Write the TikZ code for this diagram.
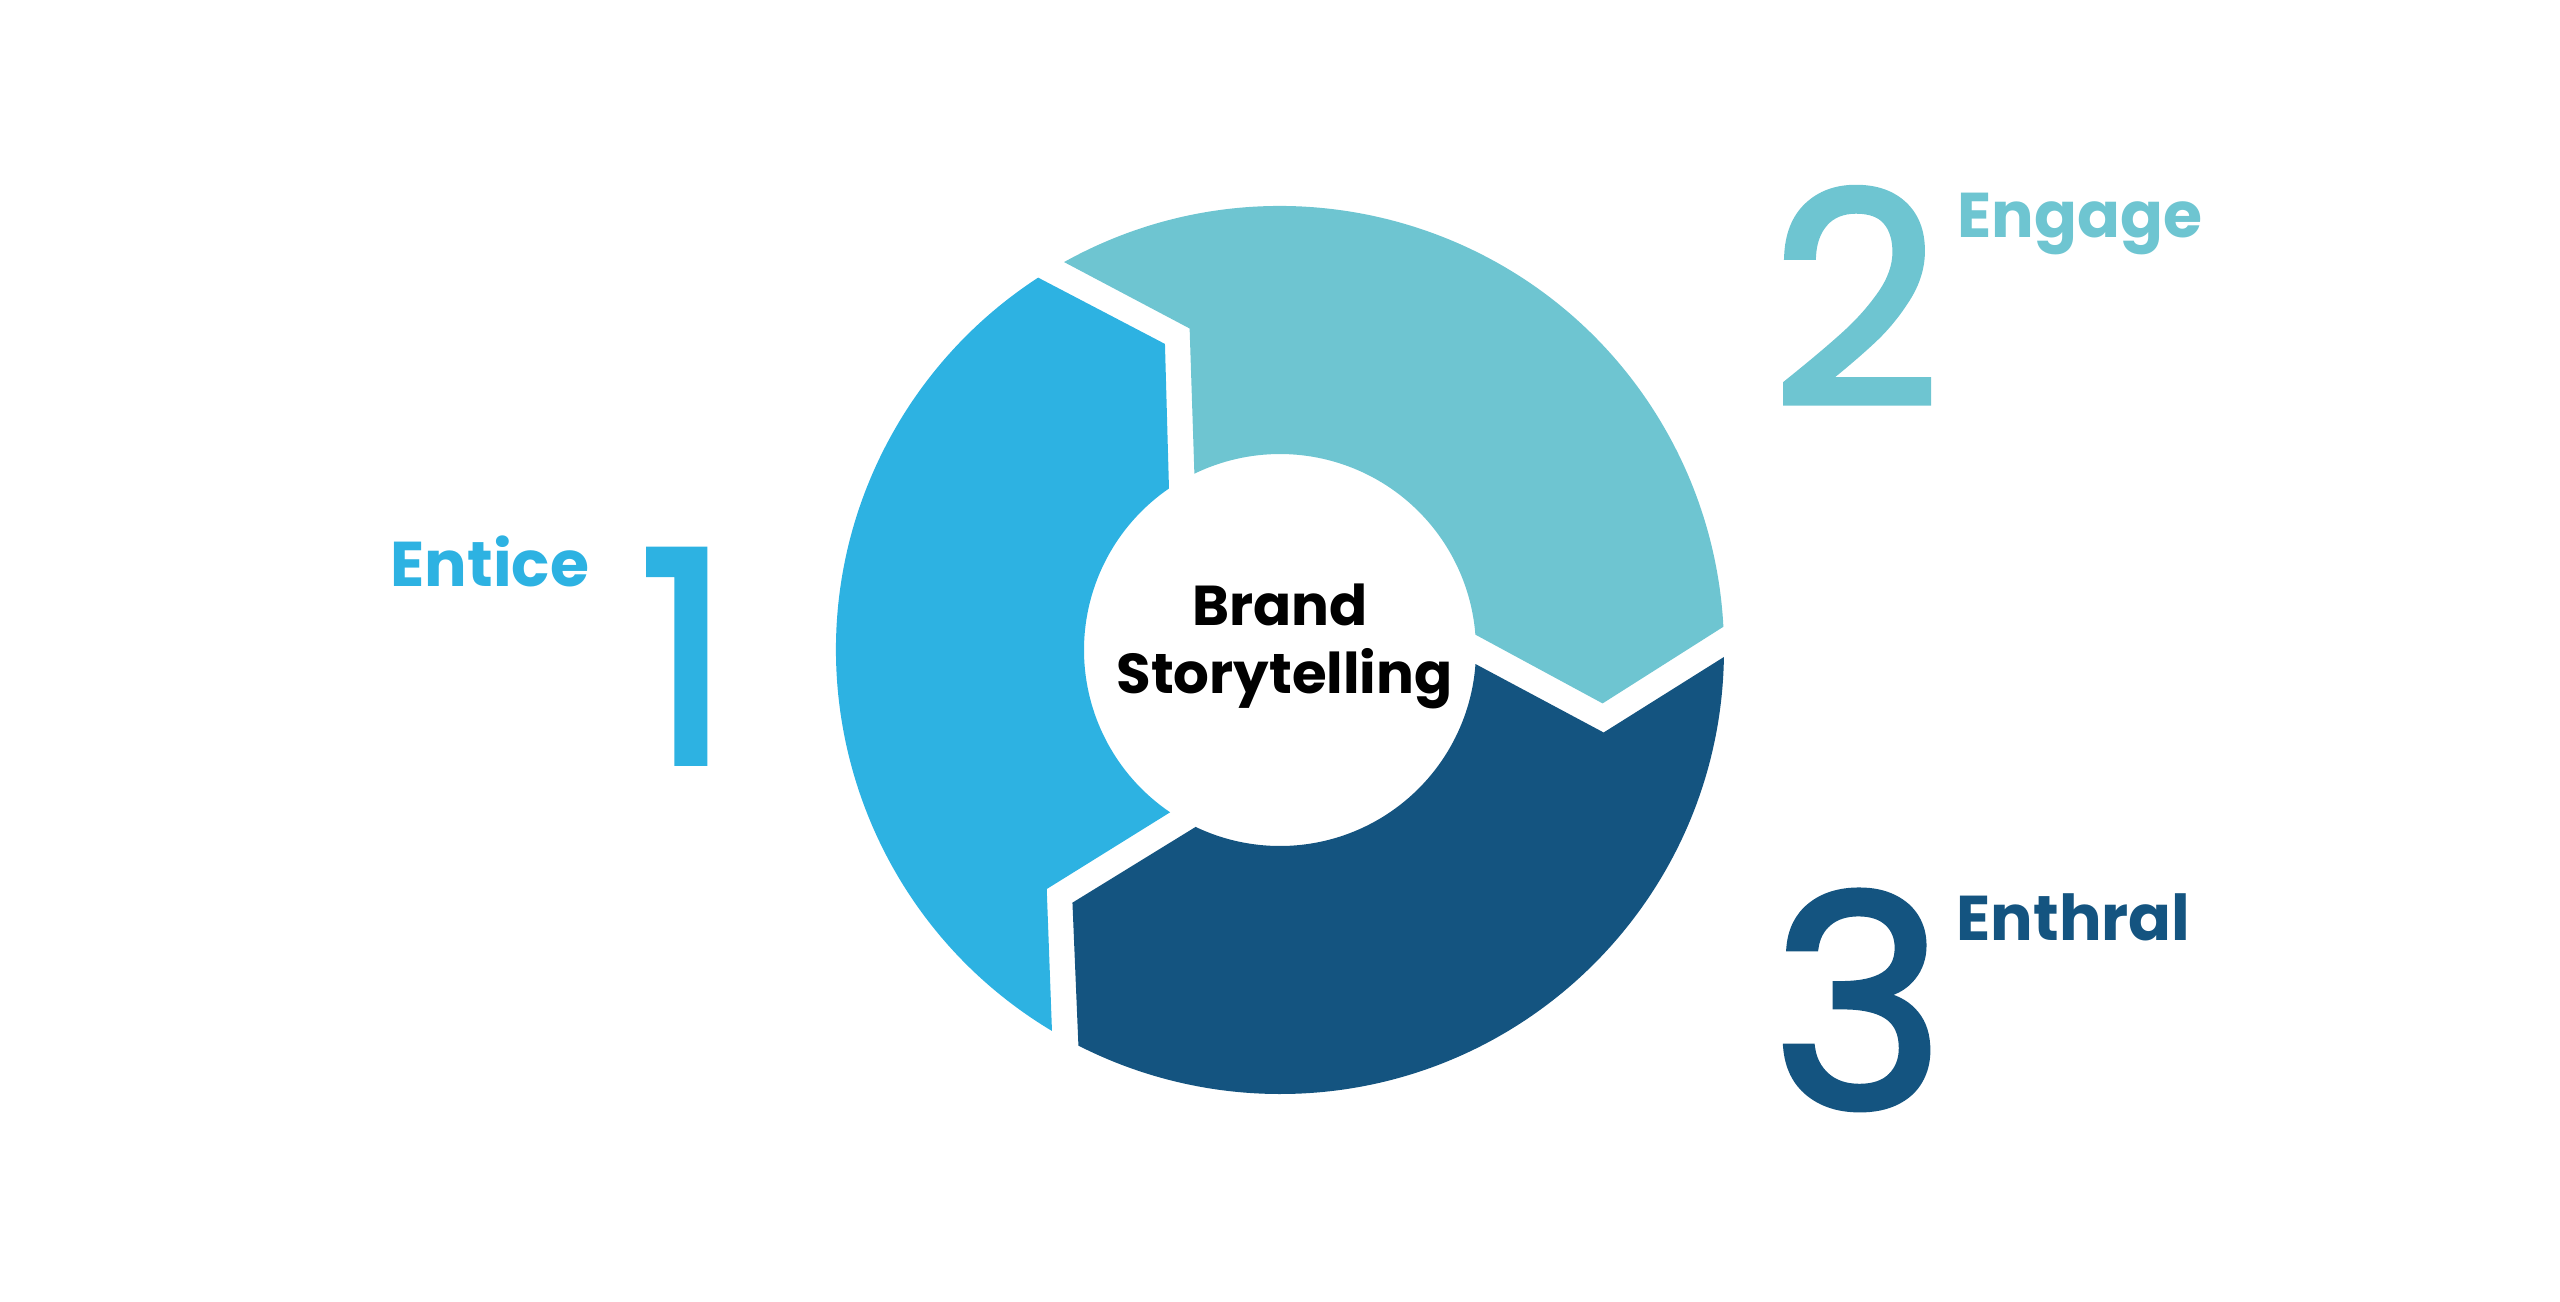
\documentclass[tikz,border=0pt]{standalone}
\usepackage{fontspec}
\setmainfont{Poppins}
\newfontfamily\numfont[FakeBold=2]{Poppins}
\usetikzlibrary{positioning}
\definecolor{entice}{HTML}{2DB2E2}
\definecolor{engage}{HTML}{6EC5D1}
\definecolor{enthral}{HTML}{145480}

\begin{document}
\begin{tikzpicture}[big number/.style={font=\numfont\fontsize{84}{84}\selectfont,anchor=base,inner sep=0pt},
                    step label/.style={font=\fontsize{18}{18}\selectfont\bfseries,anchor=base,inner sep=0pt},
                    center label/.style={font=\fontsize{16}{16}\selectfont\bfseries,anchor=base,inner sep=0pt}]

  \useasboundingbox (-12.8,-6.51) rectangle (12.8,6.50);

  % three arrow segments, tail angle / colour
  \foreach \tail/\col in {240/entice,120/engage,0/enthral}
    \fill[\col] (\tail-0.9:4.44) arc[start angle=\tail-0.9,end angle=\tail-117,radius=4.44]
      -- (\tail-129.4:3.27) -- (\tail-115.5:1.96)
      arc[start angle=\tail-115.5,end angle=\tail-4.1,radius=1.96]
      -- (\tail-14.3:3.34) -- cycle;

  \node[center label] (brand) at (0,0.25) {Brand};
  \node[center label] (story) at (0.045,-0.43) {Storytelling};

  \node[big number,text=entice] (one) at (-5.95,-1.13) {1};
  \node[step label,text=entice] (entice) at (-7.90,0.64) {Entice};
  \node[big number,text=engage] (two) at (5.76,2.45) {2};
  \node[step label,text=engage] (engage) at (8.0,4.13) {Engage};
  \node[big number,text=enthral] (three) at (5.785,-4.58) {3};
  \node[step label,text=enthral] (enthral) at (7.935,-2.90) {Enthral};
\end{tikzpicture}
\end{document}
